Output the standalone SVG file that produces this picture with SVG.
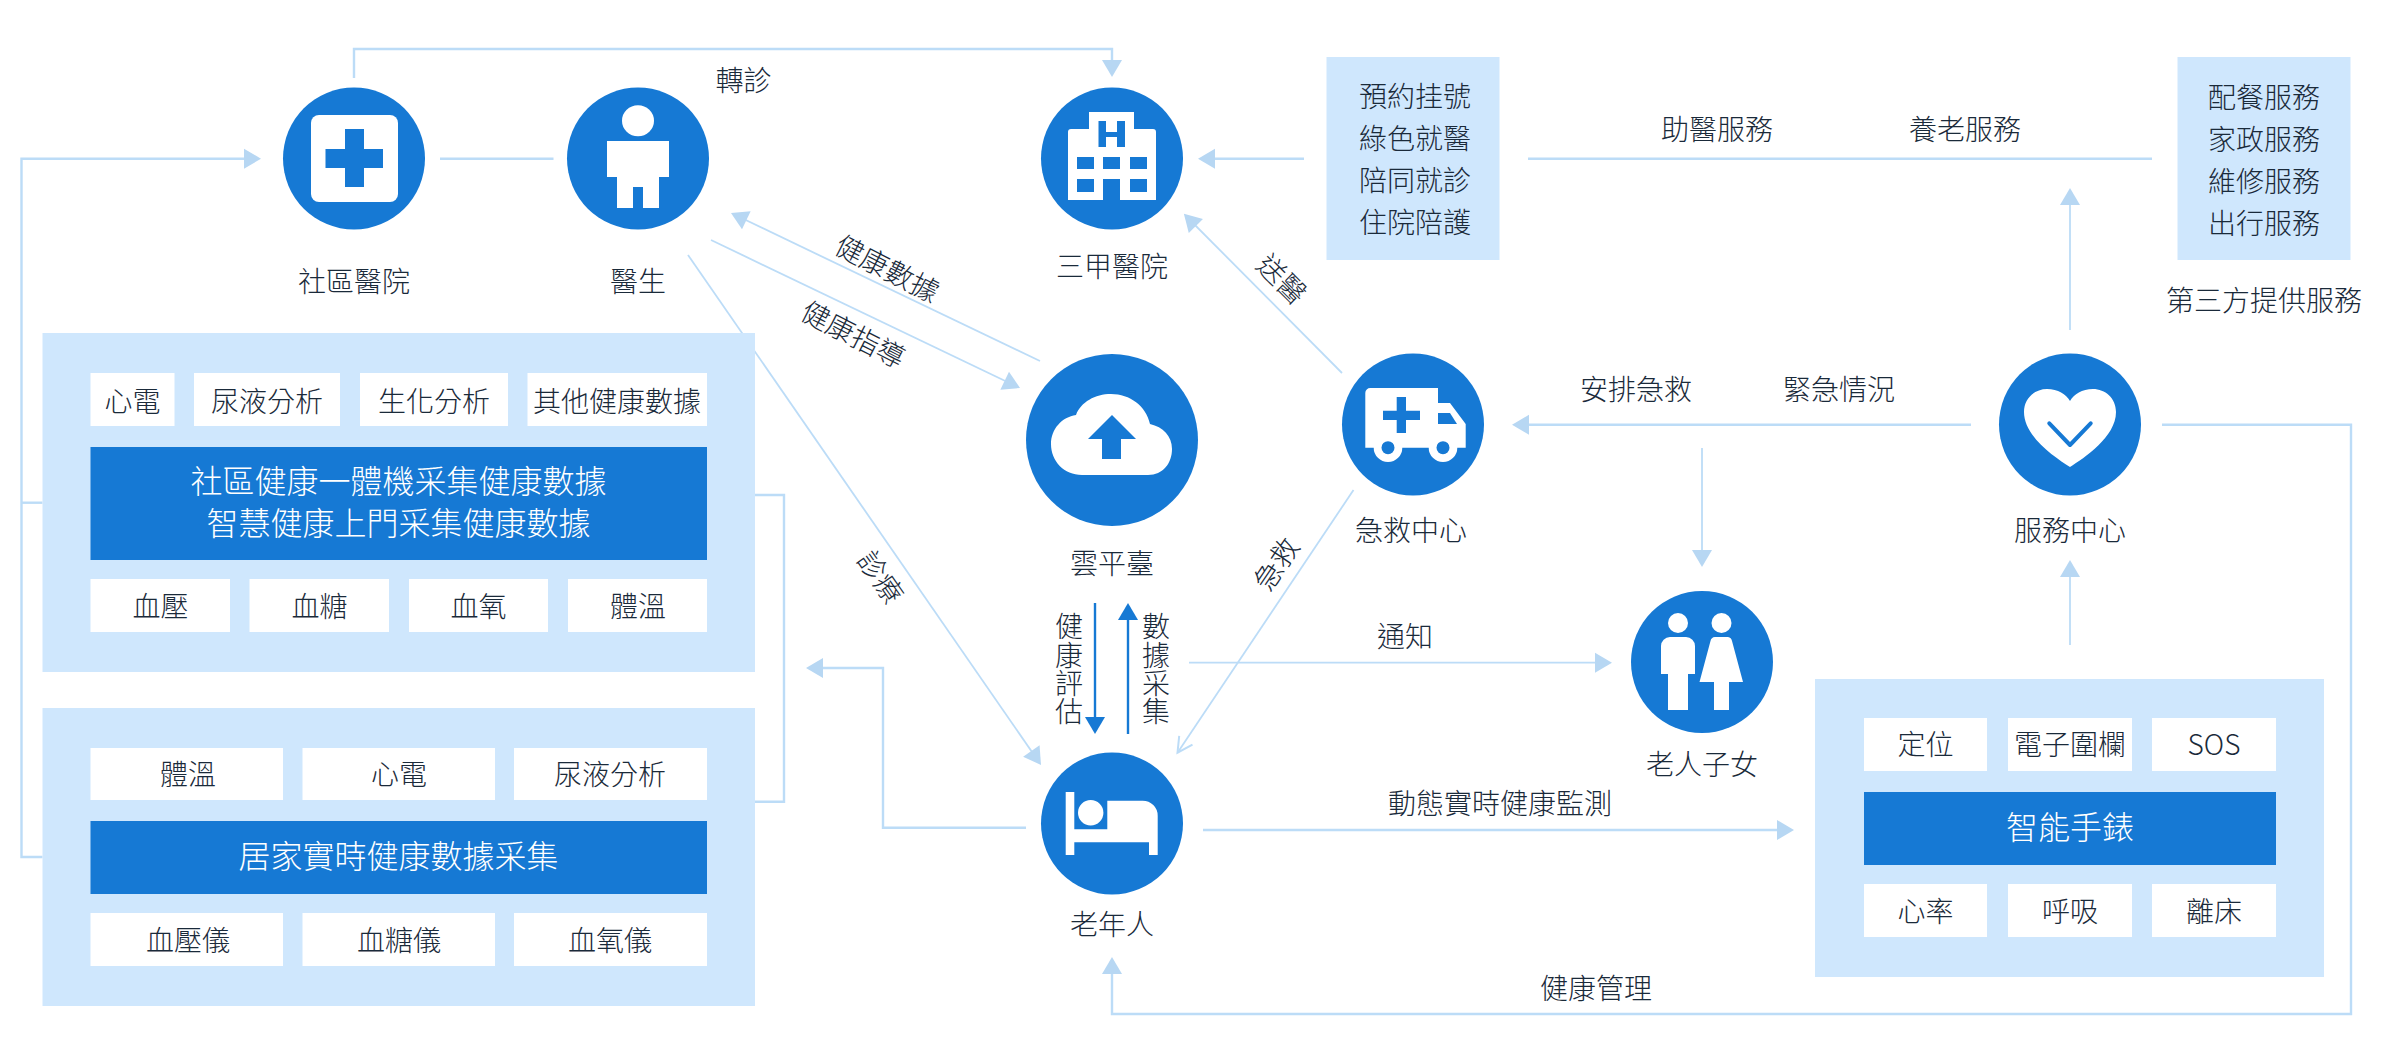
<svg xmlns="http://www.w3.org/2000/svg" width="2400" height="1054" viewBox="0 0 2400 1054">
<style>
text{font-family:"Noto Sans CJK TC","Noto Sans",sans-serif;font-size:28px;font-weight:300;fill:#1a2a3a;text-anchor:middle;dominant-baseline:central}
text.w{fill:#fff;font-size:32px}
text.v{writing-mode:vertical-rl;letter-spacing:.35px}
.c{fill:#1679d4}
.i{fill:#fff}
.b{fill:#1679d4}
.p{fill:#cfe7fd}
.l{fill:none;stroke:#bcdcf7;stroke-width:2.4}
.t{fill:none;stroke:#bcdcf7;stroke-width:1.8}
.a{marker-end:url(#ah)}
.d{fill:none;stroke:#1679d4;stroke-width:2.4;marker-end:url(#dh)}
</style>
<defs>
<marker id="ah" markerUnits="userSpaceOnUse" markerWidth="17" markerHeight="20" refX="14" refY="10" orient="auto" overflow="visible"><path d="M0 0L17 10L0 20Z" fill="#b7d7f3"/></marker>
<marker id="dh" markerUnits="userSpaceOnUse" markerWidth="17" markerHeight="20" refX="14" refY="10" orient="auto" overflow="visible"><path d="M0 0L17 10L0 20Z" fill="#1679d4"/></marker>
<marker id="oh" markerUnits="userSpaceOnUse" markerWidth="18" markerHeight="18" refX="16" refY="9" orient="auto" overflow="visible"><path d="M1 1L16 9L1 17" fill="none" stroke="#bcdcf7" stroke-width="2"/></marker>
</defs>
<g id="connectors">
<path class="l a" d="M354 78V49H1112V74"/>
<path class="l a" d="M42.500 857H21.500V158.700H258"/>
<path class="l" d="M21.500 502.700H42.500"/>
<path class="l" d="M440 158.700H553.500"/>
<path class="l" d="M755 495H784V801.700H755"/>
<path class="l a" d="M1026 827.700H883V668H809"/>
<path class="t a" d="M688 255L1039.300 762.500"/>
<path class="t a" d="M1040 361L733.700 214.300"/>
<path class="t a" d="M711 240L1017.300 386.700"/>
<path class="t a" d="M1342 373L1186 216"/>
<path class="t" marker-end="url(#oh)" d="M1353.500 490L1177.500 752.700"/>
<path class="t a" d="M1189 662.700H1609"/>
<path class="l a" d="M1203 830H1791"/>
<path class="l a" d="M2162 424.700H2351V1014H1112V960"/>
<path class="l a" d="M1971 424.700H1515"/>
<path class="t a" d="M1702 448V564"/>
<path class="t a" d="M2070 645V563"/>
<path class="t a" d="M2070 330V191"/>
<path class="l" d="M1528 158.700H2152"/>
<path class="l a" d="M1304 158.700H1201"/>
<path class="d" d="M1095 603V731"/>
<path class="d" d="M1128 734V606"/>
</g>
<g id="node-community-hospital">
<circle class="c" cx="354" cy="158.500" r="71"/>
<rect class="i" x="311" y="115" width="87" height="87" rx="8"/>
<path class="b" d="M345 129h19v20h19v19h-19v19h-19v-19h-19.500v-19h19.500z"/>
<text x="354" y="280">社區醫院</text>
</g>
<g id="node-doctor">
<circle class="c" cx="638" cy="158.500" r="71"/>
<ellipse class="i" cx="638" cy="120.700" rx="16" ry="15.500"/>
<path class="i" d="M607 141h62v36h-10v31h-16v-21h-10v21h-16v-31h-10z"/>
<text x="638" y="280">醫生</text>
</g>
<g id="node-tertiary-hospital">
<circle class="c" cx="1112" cy="158.500" r="71"/>
<path class="i" d="M1089 112h45v17h19a3 3 0 0 1 3 3v68h-88v-68a3 3 0 0 1 3-3h18z"/>
<path class="b" d="M1098.500 121h7.500v11h11v-11h8v26h-8v-10h-11v10h-7.500zM1077 157h17v12h-17zM1103 157h17v12h-17zM1130 157h17v12h-17zM1077 179h17v13h-17zM1103 179h17v21h-17zM1130 179h17v13h-17z"/>
<text x="1112" y="265">三甲醫院</text>
</g>
<g id="node-cloud">
<circle class="c" cx="1112" cy="440" r="86"/>
<path class="i" d="M1082 475C1064 475 1051 461 1051 444C1051 429 1062 417 1076 415C1081 402 1095 394 1111 394C1130 394 1146 406 1150 424C1163 427 1172 436 1172 449C1172 463 1163 475 1148 475Z"/>
<path class="b" d="M1112 415L1136 439H1121V459H1102V439H1088Z"/>
<text x="1112" y="562">雲平臺</text>
</g>
<g id="node-emergency">
<circle class="c" cx="1413" cy="424.500" r="71"/>
<path class="i" d="M1365.300 447.700V393a5 5 0 0 1 5-5h67.700v15h12l15.700 21v23.700z"/>
<path class="b" d="M1438 413h12l7 11h-19z"/>
<circle class="i" cx="1388" cy="447.700" r="14.300"/>
<circle class="i" cx="1443" cy="447.700" r="14.300"/>
<circle class="b" cx="1388" cy="447.700" r="6.500"/>
<circle class="b" cx="1443" cy="447.700" r="6.500"/>
<path class="b" d="M1396.700 397h9.300v13.700h14v9.300h-14v13h-9.300v-13h-13.700v-9.300h13.700z"/>
<text x="1411" y="529">急救中心</text>
</g>
<g id="node-elder">
<circle class="c" cx="1112" cy="823.500" r="71"/>
<path class="i" d="M1065.700 792h8.600v37.300h33v-28.600h35.400a15 15 0 0 1 15 15v39.300h-8.700v-12.700h-74.700v12.700h-8.600z"/>
<circle class="i" cx="1090.700" cy="812.700" r="12.700"/>
<text x="1112" y="923">老年人</text>
</g>
<g id="node-children">
<circle class="c" cx="1702" cy="662" r="71"/>
<ellipse class="i" cx="1678" cy="623" rx="10" ry="10"/>
<ellipse class="i" cx="1721.500" cy="623" rx="10" ry="10"/>
<path class="i" d="M1661 646a9 9 0 0 1 9-9h16a9 9 0 0 1 9 9v28h-7v36h-20v-36h-7z"/>
<path class="i" d="M1715 637h13a5 5 0 0 1 4 4l11 41h-14v28h-15v-28h-14.500l11-41a5 5 0 0 1 4.500-4z"/>
<text x="1702" y="763">老人子女</text>
</g>
<g id="node-service-center">
<circle class="c" cx="2070" cy="424.500" r="71"/>
<path class="i" d="M2070 467C2056 458 2024 437 2024 412C2024 398 2035 389 2047 389C2058 389 2066 394 2070 401C2074 394 2082 389 2093 389C2105 389 2116 398 2116 412C2116 437 2084 458 2070 467Z"/>
<path d="M2049.300 423.300L2070 445L2090.700 423.300" fill="none" stroke="#1679d4" stroke-width="4" stroke-linecap="round" stroke-linejoin="round"/>
<text x="2070" y="529">服務中心</text>
</g>
<g id="panel-community">
<rect class="p" x="42.500" y="333" width="712.500" height="339"/>
<rect class="i" x="90.500" y="373" width="84" height="53"/><text x="132.500" y="400">心電</text>
<rect class="i" x="194" y="373" width="146" height="53"/><text x="267" y="400">尿液分析</text>
<rect class="i" x="360" y="373" width="148" height="53"/><text x="434" y="400">生化分析</text>
<rect class="i" x="527.500" y="373" width="179.500" height="53"/><text x="617" y="400">其他健康數據</text>
<rect class="b" x="90.500" y="447" width="616.500" height="113"/>
<text class="w" x="398.500" y="479">社區健康一體機采集健康數據</text>
<text class="w" x="398.500" y="521">智慧健康上門采集健康數據</text>
<rect class="i" x="90.500" y="579" width="139.500" height="53"/><text x="160.500" y="605">血壓</text>
<rect class="i" x="249.500" y="579" width="139.500" height="53"/><text x="319.500" y="605">血糖</text>
<rect class="i" x="409" y="579" width="139" height="53"/><text x="478.500" y="605">血氧</text>
<rect class="i" x="568" y="579" width="139" height="53"/><text x="638" y="605">體溫</text>
</g>
<g id="panel-home">
<rect class="p" x="42.500" y="708" width="712.500" height="298"/>
<rect class="i" x="90.500" y="748" width="192.500" height="52"/><text x="188" y="773">體溫</text>
<rect class="i" x="302.500" y="748" width="192.500" height="52"/><text x="399" y="773">心電</text>
<rect class="i" x="514" y="748" width="193" height="52"/><text x="610" y="773">尿液分析</text>
<rect class="b" x="90.500" y="821" width="616.500" height="73"/>
<text class="w" x="398.500" y="854">居家實時健康數據采集</text>
<rect class="i" x="90.500" y="913" width="192.500" height="53"/><text x="188" y="939">血壓儀</text>
<rect class="i" x="302.500" y="913" width="192.500" height="53"/><text x="399" y="939">血糖儀</text>
<rect class="i" x="514" y="913" width="193" height="53"/><text x="610" y="939">血氧儀</text>
</g>
<g id="panel-watch">
<rect class="p" x="1815" y="679" width="509" height="298"/>
<rect class="i" x="1864" y="718" width="123" height="53"/><text x="1925.500" y="743">定位</text>
<rect class="i" x="2008" y="718" width="124" height="53"/><text x="2070" y="743">電子圍欄</text>
<rect class="i" x="2152" y="718" width="124" height="53"/><text x="2214" y="743">SOS</text>
<rect class="b" x="1864" y="792" width="412" height="73"/>
<text class="w" x="2070" y="825">智能手錶</text>
<rect class="i" x="1864" y="884" width="123" height="53"/><text x="1925.500" y="910">心率</text>
<rect class="i" x="2008" y="884" width="124" height="53"/><text x="2070" y="910">呼吸</text>
<rect class="i" x="2152" y="884" width="124" height="53"/><text x="2214" y="910">離床</text>
</g>
<g id="box-medical-services">
<rect class="p" x="1326.500" y="57" width="173" height="203"/>
<text x="1415" y="95">預約挂號</text><text x="1415" y="137">綠色就醫</text><text x="1415" y="179">陪同就診</text><text x="1415" y="221">住院陪護</text>
</g>
<g id="box-third-party">
<rect class="p" x="2177.500" y="57" width="173" height="203"/>
<text x="2264" y="96">配餐服務</text><text x="2264" y="138">家政服務</text><text x="2264" y="180">維修服務</text><text x="2264" y="222">出行服務</text>
<text x="2264" y="299">第三方提供服務</text>
</g>
<g id="labels">
<text x="743.500" y="79">轉診</text>
<text x="1717" y="128">助醫服務</text>
<text x="1965" y="128">養老服務</text>
<text x="1636" y="388">安排急救</text>
<text x="1839" y="388">緊急情況</text>
<text x="1405" y="635">通知</text>
<text x="1500" y="802">動態實時健康監測</text>
<text x="1596" y="987">健康管理</text>
<text transform="translate(888 267) rotate(27)">健康數據</text>
<text transform="translate(854 333) rotate(27)">健康指導</text>
<text transform="translate(1283 278) rotate(45)">送醫</text>
<text transform="translate(1275 563) rotate(-56)">急救</text>
<text transform="translate(882 576) rotate(55)">診療</text>
<text class="v" x="1069" y="669.500">健康評估</text>
<text class="v" x="1156" y="669.500">數據采集</text>
</g>
</svg>
